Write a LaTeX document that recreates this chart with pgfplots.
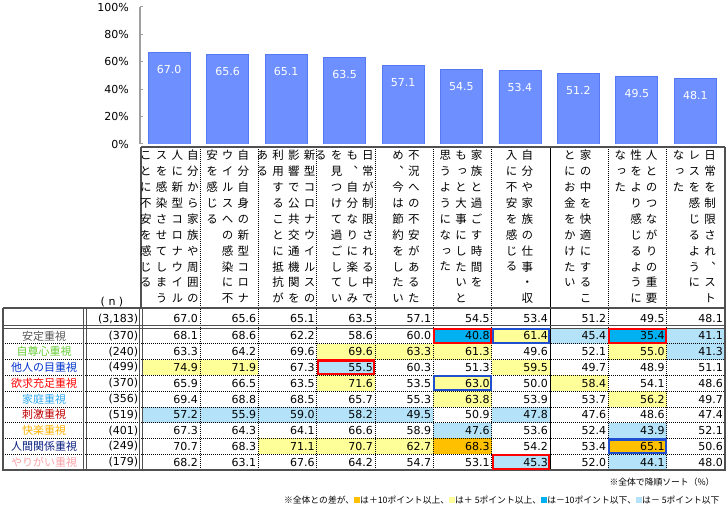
\documentclass[border=0pt]{standalone}
\usepackage{fontspec}
\usepackage{pgfplots}
\usepackage{pgfplotstable}
\pgfplotsset{compat=1.18}
\setmainfont{DejaVu Sans}
\newfontfamily\jp{Noto Sans CJK JP}
\newfontfamily\jpv[RawFeature=+vert]{Noto Sans CJK JP}

\definecolor{barfill}{RGB}{110,143,255}
\definecolor{barline}{RGB}{85,120,245}
\definecolor{hlY}{RGB}{255,255,153}
\definecolor{hlO}{RGB}{255,192,0}
\definecolor{hlB}{RGB}{0,176,240}
\definecolor{hlL}{RGB}{180,226,248}
\definecolor{boxR}{RGB}{255,0,0}
\definecolor{boxB}{RGB}{31,79,207}
\definecolor{frm}{RGB}{80,80,80}
\definecolor{cA}{RGB}{89,89,89}
\definecolor{cB}{RGB}{102,204,51}
\definecolor{cC}{RGB}{0,51,204}
\definecolor{cD}{RGB}{255,0,0}
\definecolor{cE}{RGB}{47,168,240}
\definecolor{cF}{RGB}{192,0,0}
\definecolor{cG}{RGB}{255,176,0}
\definecolor{cH}{RGB}{10,32,128}
\definecolor{cI}{RGB}{249,163,168}

% vertical (tategaki) column of characters
\ExplSyntaxOn
\NewDocumentCommand\tate{m}
  {
    \tl_set:Nx \l_tmpa_tl {#1}
    \vbox
      {
        \jpv \fontsize{11.5pt}{15.9pt} \selectfont
        \baselineskip=15.9pt
        \tl_map_inline:Nn \l_tmpa_tl
          { \hbox~to~15pt { \hss \vrule~height~10pt~depth~2pt~width~0pt ##1 \hss } }
      }
  }
\ExplSyntaxOff

% center, number of lines, lines from right to left
\newcommand\tatecol[3]{%
  \foreach \s [count=\j from 0] in {#3} {
    \node[anchor=north, inner sep=0pt] at ({#1+((#2-1)/2-\j)*15.7}, 149.5) {\tate{\s}};
  }}

\pgfdeclareplotmark{cellfill}{\pgfpathrectangle{\pgfpoint{-29.165pt}{-7.89pt}}{\pgfpoint{58.33pt}{15.78pt}}\pgfusepathqfill}
\pgfdeclareplotmark{cellbox}{\pgfpathrectangle{\pgfpoint{-28.2pt}{-6.9pt}}{\pgfpoint{56.4pt}{13.8pt}}\pgfusepathqstroke}

\pgfplotsset{tblax/.style={at={(141.7pt,39pt)}, anchor=south west,
    width=583.3pt, height=142pt, scale only axis,
    xmin=-0.5, xmax=9.5, ymin=0.5, ymax=9.5, y dir=reverse,
    hide axis, clip=false}}

% values by row (r = row position, row 0 is the total)
\pgfplotstableread{
r n c0 c1 c2 c3 c4 c5 c6 c7 c8 c9
-0.08 (3,183) 67.0 65.6 65.1 63.5 57.1 54.5 53.4 51.2 49.5 48.1
1 (370) 68.1 68.6 62.2 58.6 60.0 40.8 61.4 45.4 35.4 41.1
2 (240) 63.3 64.2 69.6 69.6 63.3 61.3 49.6 52.1 55.0 41.3
3 (499) 74.9 71.9 67.3 55.5 60.3 51.3 59.5 49.7 48.9 51.1
4 (370) 65.9 66.5 63.5 71.6 53.5 63.0 50.0 58.4 54.1 48.6
5 (356) 69.4 68.8 68.5 65.7 55.3 63.8 53.9 53.7 56.2 49.7
6 (519) 57.2 55.9 59.0 58.2 49.5 50.9 47.8 47.6 48.6 47.4
7 (401) 67.3 64.3 64.1 66.6 58.9 47.6 53.6 52.4 43.9 52.1
8 (249) 70.7 68.3 71.1 70.7 62.7 68.3 54.2 53.4 65.1 50.6
9 (179) 68.2 63.1 67.6 64.2 54.7 53.1 45.3 52.0 44.1 48.0
}\tbl

% highlighted cells: y=+5, o=+10, l=-5, b=-10
\pgfplotstableread{
c r k
5 1 b
6 1 y
7 1 l
8 1 b
9 1 l
3 2 y
4 2 y
5 2 y
8 2 y
9 2 l
0 3 y
1 3 y
3 3 l
6 3 y
3 4 y
5 4 y
7 4 y
5 5 y
8 5 y
0 6 l
1 6 l
2 6 l
3 6 l
4 6 l
6 6 l
5 7 l
8 7 l
2 8 y
3 8 y
4 8 y
5 8 o
8 8 o
6 9 l
8 9 l
}\hl

% outlined cells
\pgfplotstableread{
c r k
5 1 R
8 1 R
3 3 R
6 9 R
6 1 B
5 4 B
8 8 B
}\bx

\begin{document}
\begin{tikzpicture}
\path[use as bounding box] (0,0) rectangle (727pt,509pt);

% bar chart
\begin{axis}[
    at={(140pt,365pt)}, anchor=south west,
    width=584.5pt, height=137pt, scale only axis,
    xmin=-0.5, xmax=9.5, ymin=0, ymax=100,
    axis x line=none, axis y line*=left,
    y axis line style={draw=gray!75, line width=1.5pt},
    ytick={0,20,...,100},
    yticklabel={\pgfmathprintnumber{\tick}\%},
    /pgf/number format/assume math mode=true,
    tick style={draw=gray!75, line width=1pt},
    tick align=inside, major tick length=3pt,
    yticklabel style={font=\fontsize{11}{13}\selectfont, inner sep=0pt, xshift=-11pt},
  ]
  \addplot[ybar, bar width=42pt, fill=barfill, draw=barline, line width=0.8pt,
    nodes near coords={\pgfmathprintnumber[fixed,fixed zerofill,precision=1]{\pgfplotspointmeta}},
    every node near coord/.append style={anchor=north, inner sep=0pt, yshift=-12.5pt,
      text=white, font=\fontsize{11}{13}\selectfont}]
    coordinates {(0,67.0) (1,65.6) (2,65.1) (3,63.5) (4,57.1) (5,54.5) (6,53.4) (7,51.2) (8,49.5) (9,48.1)};
\end{axis}

% cell highlights
\begin{axis}[tblax]
  \addplot[scatter, only marks, scatter src=explicit symbolic,
    scatter/classes={
      y={mark=cellfill, fill=hlY, draw=none},
      o={mark=cellfill, fill=hlO, draw=none},
      b={mark=cellfill, fill=hlB, draw=none},
      l={mark=cellfill, fill=hlL, draw=none}}]
    table[x=c, y=r, meta=k] {\hl};
\end{axis}

% table grid, labels and notes (pixel coordinates, y downwards)
\begin{scope}[x=1pt, y=-1pt, yshift=509pt]
  \foreach \i in {1,...,9} {
    \ifnum\i=7
      \draw[black, line width=0.8pt] ({141.7+58.33*\i},147) -- ({141.7+58.33*\i},470);
    \else
      \draw[black, line width=0.7pt, dash pattern=on 0.8pt off 1.2pt] ({141.7+58.33*\i},147) -- ({141.7+58.33*\i},470);
    \fi
  }
  \foreach \k in {1,...,8}
    \draw[black, line width=0.7pt, dash pattern=on 0.8pt off 1.2pt] (3,{328+15.78*\k}) -- (725,{328+15.78*\k});
  \draw[frm, line width=0.7pt] (3,325) -- (725,325) (3,328.3) -- (725,328.3);
  \draw[frm, line width=0.8pt] (83.5,308) -- (83.5,470) (86.5,308) -- (86.5,470);
  \draw[frm, line width=0.8pt] (139.5,308) -- (139.5,470) (142.7,308) -- (142.7,470);
  \draw[frm, line width=1.6pt] (141,147) -- (725,147) (141,147) -- (141,308);
  \draw[frm, line width=1.6pt] (3,308) -- (725,308) -- (725,147);
  \draw[frm, line width=1.6pt] (3,308) -- (3,470) -- (725,470) -- (725,308);

  \tatecol{169.4}{4}{自分から家族や周囲の,人に新型コロナウイル,スを感染させてしまう,ことに不安を感じる}
  \tatecol{227.7}{3}{自分自身の新型コロナ,ウイルスへの感染に不,安を感じる}
  \tatecol{286.0}{4}{新型コロナウイルスの,影響で公共交通機関を,利用することに抵抗が,ある}
  \tatecol{344.4}{4}{日常が制限される中で,も、自分なりに楽しみ,を見つけて過ごしてい,る}
  \tatecol{406.0}{2}{不況への不安があるた,め、今は節約をしたい}
  \tatecol{461.0}{3}{家族と過ごす時間を,もっと大事にしたいと,思うようになった}
  \tatecol{519.4}{2}{自分や家族の仕事・収,入に不安を感じる}
  \tatecol{577.7}{2}{家の中を快適にするこ,とにお金をかけたい}
  \tatecol{636.0}{3}{人とのつながりの重要,性をより感じるように,なった}
  \tatecol{694.4}{3}{日常を制限され、スト,レスを感じるように,なった}

  \node[font=\fontsize{11}{13}\selectfont] at (112,302) {( n )};

  \foreach \nm/\cl [count=\k] in {安定重視/cA, 自尊心重視/cB, 他人の目重視/cC,
      欲求充足重視/cD, 家庭重視/cE, 刺激重視/cF, 快楽重視/cG, 人間関係重視/cH, やりがい重視/cI}
    \node[text=\cl, font=\jp\fontsize{11}{13}\selectfont] at (44,{328+15.78*(\k-0.5)}) {\nm};

  \node[anchor=east, font=\jp\fontsize{8.8}{10}\selectfont] at (718,482) {※全体で降順ソート（\%）};
  \node[anchor=east, font=\jp\fontsize{8.8}{10}\selectfont] at (723,500)
    {※全体との差が、\textcolor{hlO}{\rule{6pt}{6pt}}は＋10ポイント以上、\textcolor{hlY}{\rule{6pt}{6pt}}は＋ 5ポイント以上、\textcolor{hlB}{\rule{6pt}{6pt}}は－10ポイント以下、\textcolor{hlL}{\rule{6pt}{6pt}}は－ 5ポイント以下};
\end{scope}

% table values, sample sizes and outlined cells
\begin{axis}[tblax]
  \pgfplotsinvokeforeach{0,...,9}{
    \addplot[only marks, mark=none, point meta=explicit symbolic,
      nodes near coords={\pgfplotspointmeta},
      every node near coord/.append style={anchor=east, inner sep=0pt, xshift=27.2pt,
        font=\fontsize{11}{13}\selectfont}]
      table[x expr=#1, y=r, meta=c#1] {\tbl};
  }
  \addplot[only marks, mark=none, point meta=explicit symbolic,
    nodes near coords={\pgfplotspointmeta},
    every node near coord/.append style={anchor=east, inner sep=0pt, xshift=-3.4pt,
      font=\fontsize{11}{13}\selectfont}]
    table[x expr=-0.5, y=r, meta=n] {\tbl};
  \addplot[scatter, only marks, scatter src=explicit symbolic,
    scatter/classes={
      R={mark=cellbox, draw=boxR, line width=2.2pt},
      B={mark=cellbox, draw=boxB, line width=2.2pt}}]
    table[x=c, y=r, meta=k] {\bx};
\end{axis}
\end{tikzpicture}
\end{document}
